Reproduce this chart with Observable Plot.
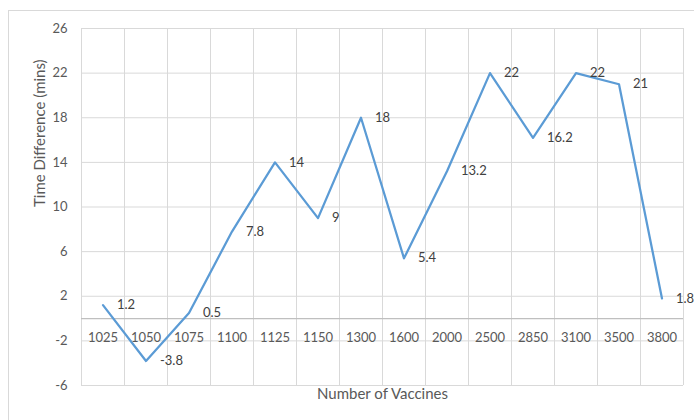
<!DOCTYPE html>
<html><head><meta charset="utf-8">
<script src="https://cdn.jsdelivr.net/npm/d3@7"></script>
<script src="https://cdn.jsdelivr.net/npm/@observablehq/plot@0.6"></script>
<style>
body{margin:0;background:#fff;}
#wrap{position:relative;width:694px;height:420px;overflow:hidden;}
#border{position:absolute;left:8px;top:10px;width:720px;height:440px;border:1px solid #d9d9d9;box-sizing:border-box;}
#chart{position:absolute;left:0;top:0;}
</style></head>
<body><div id="wrap"><div id="border"></div><div id="chart"></div></div>
<script>
const categories = ["1025","1050","1075","1100","1125","1150","1300","1600","2000","2500","2850","3100","3500","3800"];
const values = [1.2, -3.8, 0.5, 7.8, 14, 9, 18, 5.4, 13.2, 22, 16.2, 22, 21, 1.8];
const yTicks = [-6, -2, 2, 6, 10, 14, 18, 22, 26];
const yTitle = "Time Difference (mins)";
const xTitle = "Number of Vaccines";

const data = categories.map((c, i) => ({i, c, v: values[i]}));
const edges = d3.range(categories.length + 1).map(i => i - 0.5);

const plot = Plot.plot({
  width: 694, height: 420,
  marginLeft: 81, marginRight: 11, marginTop: 28, marginBottom: 35,
  x: {domain: [-0.5, categories.length - 0.5], axis: null},
  y: {domain: [-6, 26], axis: null},
  style: {fontFamily: "Lato, sans-serif", fontSize: "13px", background: "transparent"},
  marks: [
    Plot.ruleY(yTicks, {stroke: "#d9d9d9", strokeWidth: 1, strokeOpacity: 1}),
    Plot.ruleX(edges, {stroke: "#d9d9d9", strokeWidth: 1, strokeOpacity: 1}),
    Plot.ruleY([0], {stroke: "#bfbfbf", strokeWidth: 1.2, strokeOpacity: 1}),
    Plot.text(yTicks, {x: -0.5, y: d => d, text: d => String(d), textAnchor: "end", dx: -14, fill: "#595959"}),
    Plot.text(data, {x: "i", y: 0, text: "c", dy: 19, fill: "#595959"}),
    Plot.line(data, {x: "i", y: "v", stroke: "#5b9bd5", strokeWidth: 2.25, strokeLinejoin: "round", strokeLinecap: "round"}),
    Plot.text(data, {x: "i", y: "v", text: d => String(d.v), dx: 14, textAnchor: "start", fill: "#404040"}),
    Plot.text([yTitle], {frameAnchor: "left", rotate: -90, dx: -41, fill: "#595959", fontSize: 15}),
    Plot.text([xTitle], {frameAnchor: "bottom", dy: 13, fill: "#595959", fontSize: 15})
  ]
});
document.getElementById("chart").appendChild(plot);
</script>
</body></html>
